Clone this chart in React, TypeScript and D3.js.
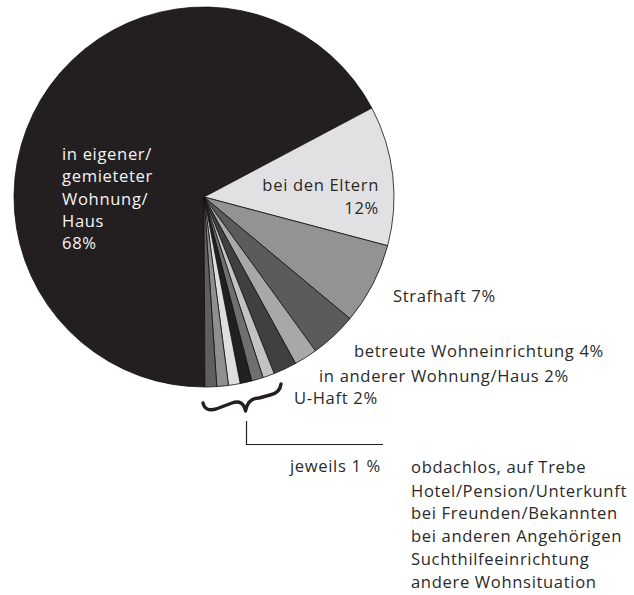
import React from "react";
import * as d3 from "d3";

const categories = [
  "in eigener/gemieteter Wohnung/Haus",
  "bei den Eltern",
  "Strafhaft",
  "betreute Wohneinrichtung",
  "in anderer Wohnung/Haus",
  "U-Haft",
  "obdachlos, auf Trebe",
  "Hotel/Pension/Unterkunft",
  "bei Freunden/Bekannten",
  "bei anderen Angehörigen",
  "Suchthilfeeinrichtung",
  "andere Wohnsituation",
];
const values = [68, 12, 7, 4, 2, 2, 1, 1, 1, 1, 1, 1];
const colors = [
  "#231f20", "#e1e1e3", "#939396", "#5b5b5e", "#a8a8aa", "#404043",
  "#c3c3c5", "#6f6f72", "#231f20", "#dedee0", "#8f8f92", "#5f5f62",
];
const mainLabelLines = ["in eigener/", "gemieteter", "Wohnung/", "Haus", "68%"];
const eltLabelLines = ["bei den Eltern", "12%"];
const smallList = categories.slice(6);
const smallListY = [473, 497, 519, 542, 565, 588];

const W = 634;
const H = 595;
const cx = 204;
const cy = 197;
const R = 190;
const FONT = "'Open Sans', 'Liberation Sans', sans-serif";
const TXT = "#2a2a2a";

export default function App() {
  const pie = d3
    .pie<number>()
    .sort(null)
    .value((d) => d)
    .startAngle(Math.PI - 0.005)
    .endAngle(Math.PI - 0.005 + 2 * Math.PI);
  const arcs = pie(values);
  const arc = d3.arc<d3.PieArcDatum<number>>().innerRadius(0).outerRadius(R);

  const textStyle: React.CSSProperties = {
    fontFamily: FONT,
    fontWeight: 400,
    fontSize: 16.6,
    letterSpacing: 0.65,
  };

  return (
    <svg
      width={W}
      height={H}
      style={{ position: "absolute", left: 0, top: 0, background: "#fff" }}
    >
      <g transform={`translate(${cx},${cy})`}>
        {arcs.map((a, i) => (
          <path
            key={i}
            d={arc(a) || ""}
            fill={colors[i]}
            stroke="#111"
            strokeWidth={0.8}
            strokeLinejoin="round"
          />
        ))}
      </g>

      {mainLabelLines.map((t, i) => (
        <text key={t} x={62} y={160 + i * 22.3} fill="#f4f4f4" style={textStyle}>
          {t}
        </text>
      ))}

      {eltLabelLines.map((t, i) => (
        <text key={t} x={379} y={191 + i * 22.5} fill={TXT} textAnchor="end" style={textStyle}>
          {t}
        </text>
      ))}

      <text x={393} y={302} fill={TXT} style={textStyle}>Strafhaft 7%</text>
      <text x={354} y={357} fill={TXT} style={textStyle}>betreute Wohneinrichtung 4%</text>
      <text x={319} y={382} fill={TXT} style={textStyle}>in anderer Wohnung/Haus 2%</text>
      <text x={294} y={404} fill={TXT} style={textStyle}>U-Haft 2%</text>

      <path
        d="M203,403 Q205,412 216,409 L232,403 Q243,399 245.5,411 Q248,398 259,398 L270,395 Q280,393 281,384"
        fill="none"
        stroke="#231f20"
        strokeWidth={3.4}
        strokeLinecap="round"
        strokeLinejoin="round"
      />
      <path d="M246.5,421 V444.5 H383" fill="none" stroke="#231f20" strokeWidth={1.2} />

      <text x={290} y={472} fill={TXT} style={textStyle}>jeweils 1 %</text>
      {smallList.map((t, i) => (
        <text key={t} x={411} y={smallListY[i]} fill={TXT} style={textStyle}>
          {t}
        </text>
      ))}
    </svg>
  );
}
